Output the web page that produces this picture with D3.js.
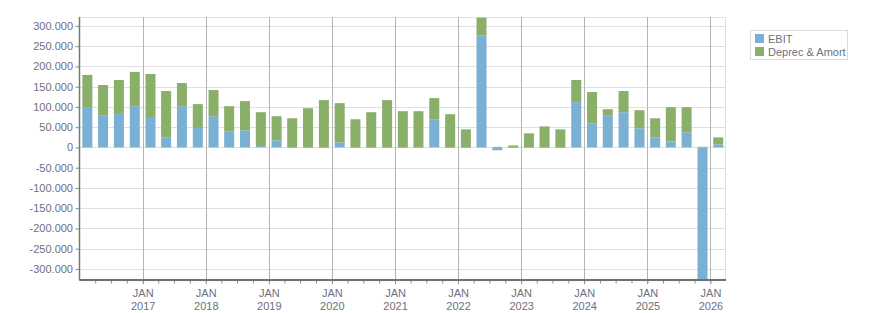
<!DOCTYPE html>
<html>
<head>
<meta charset="utf-8">
<script src="https://cdn.jsdelivr.net/npm/d3@7"></script>
<style>
  body { margin: 0; background: #fff; }
  text { font-family: "Liberation Sans", Arial, sans-serif; font-size: 11px; fill: #716e82; }
</style>
</head>
<body>
<svg id="chart" width="876" height="313"></svg>
<script>
// quarterly EBIT vs depreciation & amortisation, stacked bars
const quarters = [
  '2016-01', '2016-04', '2016-07', '2016-10',
  '2017-01', '2017-04', '2017-07', '2017-10',
  '2018-01', '2018-04', '2018-07', '2018-10',
  '2019-01', '2019-04', '2019-07', '2019-10',
  '2020-01', '2020-04', '2020-07', '2020-10',
  '2021-01', '2021-04', '2021-07', '2021-10',
  '2022-01', '2022-04', '2022-07', '2022-10',
  '2023-01', '2023-04', '2023-07', '2023-10',
  '2024-01', '2024-04', '2024-07', '2024-10',
  '2025-01', '2025-04', '2025-07', '2025-10',
  '2026-01',
];
const ebit = [
  98000, 79500, 82800, 101900,
  72900, 24900, 101900, 48000,
  77000, 39800, 42300, 3300,
  17400, -1000, -1000, -1000,
  12400, -1000, -1000, -1000,
  -1000, -1000, 69600, -1000,
  -1000, 276000, -7000, -1000,
  -1000, -1000, -1000, 111800,
  59600, 79500, 87000, 47200,
  24900, 14900, 37300, -345000,
  7500,
];
const deprecAmort = [
  81000, 74500, 83700, 84500,
  108500, 114300, 57100, 58900,
  64700, 62100, 72000, 83700,
  59600, 72000, 96900, 116800,
  96900, 69600, 87000, 116800,
  89500, 89500, 52200, 82000,
  44700, 44500, 1500, 5000,
  34800, 52000, 44700, 54700,
  77100, 14900, 52200, 44800,
  47100, 84500, 62100, 1500,
  17400,
];
const seriesNames = ['EBIT', 'Deprec & Amort'];
const seriesColors = ['#79b0d3', '#8aaf69'];
const yTicks = [-300000, -250000, -200000, -150000, -100000, -50000, 0,
  50000, 100000, 150000, 200000, 250000, 300000];
const yearTicks = ['2017', '2018', '2019', '2020', '2021', '2022', '2023', '2024', '2025', '2026'];

const plotLeft = 79.5, plotRight = 726, plotTop = 17, plotBottom = 279.5;
const svg = d3.select('#chart');
const parseMonth = d3.timeParse('%Y-%m');

const x = d3.scaleTime()
  .domain([new Date(2016, 0, 1), new Date(2026, 3, 1)])
  .range([plotLeft, plotRight]);
const y = d3.scaleLinear().domain([-326000, 322000]).range([plotBottom, plotTop]);

const locale = d3.formatLocale({ decimal: ',', thousands: '.', grouping: [3], currency: ['', ''], minus: '-' });
const fmt = locale.format(',.3~f');

const rows = quarters.map((q, i) => ({ date: parseMonth(q), ebit: ebit[i], da: deprecAmort[i] }));
const stack = d3.stack().keys(['ebit', 'da']).offset(d3.stackOffsetDiverging);
const layers = stack(rows);

// grid
const grid = svg.append('g');
grid.selectAll('line.h').data(yTicks).join('line')
  .attr('x1', plotLeft).attr('x2', plotRight)
  .attr('y1', (d) => Math.round(y(d)) + 0.5).attr('y2', (d) => Math.round(y(d)) + 0.5)
  .attr('stroke', '#e0e0e0');
grid.append('line').attr('x1', plotLeft).attr('x2', plotRight)
  .attr('y1', plotTop + 0.5).attr('y2', plotTop + 0.5).attr('stroke', '#e0e0e0');
grid.append('line').attr('x1', plotRight - 0.5).attr('x2', plotRight - 0.5)
  .attr('y1', plotTop).attr('y2', plotBottom).attr('stroke', '#e0e0e0');
grid.selectAll('line.v').data(yearTicks).join('line')
  .attr('x1', (d) => Math.round(x(new Date(+d, 0, 1))) + 0.5)
  .attr('x2', (d) => Math.round(x(new Date(+d, 0, 1))) + 0.5)
  .attr('y1', plotTop).attr('y2', plotBottom + 5)
  .attr('stroke', '#b4b4b4');

// bars
svg.append('clipPath').attr('id', 'plot-clip')
  .append('rect').attr('x', plotLeft).attr('y', plotTop)
  .attr('width', plotRight - plotLeft).attr('height', plotBottom - plotTop);
const barWidth = 10;
const barLayer = svg.append('g').attr('clip-path', 'url(#plot-clip)');
layers.forEach((layer, li) => {
  barLayer.append('g').attr('fill', seriesColors[li])
    .selectAll('rect').data(layer).join('rect')
    .attr('x', (d) => {
      const start = d.data.date;
      const end = d3.timeMonth.offset(start, 3);
      return (x(start) + x(end)) / 2 - barWidth / 2;
    })
    .attr('width', barWidth)
    .attr('y', (d) => y(Math.max(d[0], d[1])))
    .attr('height', (d) => Math.abs(y(d[0]) - y(d[1])));
});

// y axis
const yAxis = svg.append('g')
  .attr('transform', `translate(${plotLeft},0)`)
  .call(d3.axisLeft(y).tickValues(yTicks).tickSize(4).tickPadding(2.5).tickFormat(fmt));
yAxis.select('.domain').remove();
yAxis.selectAll('.tick line').attr('stroke', '#8a8a8a');
yAxis.selectAll('text').attr('fill', null).attr('font-family', null).attr('font-size', null);
svg.append('line').attr('x1', plotLeft).attr('x2', plotLeft)
  .attr('y1', plotTop).attr('y2', plotBottom + 1).attr('stroke', '#777').attr('stroke-width', 1.5);

// x axis: quarter ticks plus year labels
const quarterTicks = d3.timeMonth.every(3).range(new Date(2016, 3, 1), new Date(2026, 2, 1));
const xMinor = svg.append('g')
  .attr('transform', `translate(0,${plotBottom})`)
  .call(d3.axisBottom(x).tickValues(quarterTicks).tickSize(4).tickFormat(''));
xMinor.select('.domain').remove();
xMinor.selectAll('.tick line').attr('stroke', '#8a8a8a');

const yearDates = yearTicks.map((yr) => new Date(+yr, 0, 1));
const xMajor = svg.append('g')
  .attr('transform', `translate(0,${plotBottom})`)
  .call(d3.axisBottom(x).tickValues(yearDates).tickSize(0).tickFormat(''));
xMajor.select('.domain').remove();
xMajor.selectAll('.tick').each(function (d) {
  const t = d3.select(this).append('text').attr('text-anchor', 'middle');
  t.append('tspan').attr('x', 0).attr('y', 17.5).text('JAN');
  t.append('tspan').attr('x', 0).attr('y', 30.5).text(d.getFullYear());
});
svg.append('line').attr('x1', plotLeft).attr('x2', plotRight)
  .attr('y1', plotBottom + 0.5).attr('y2', plotBottom + 0.5)
  .attr('stroke', '#707070').attr('stroke-width', 2);

// legend
const legend = svg.append('g').attr('transform', 'translate(750.5,30.5)');
legend.append('rect').attr('width', 97).attr('height', 29).attr('fill', '#fff').attr('stroke', '#dcdcdc');
seriesNames.forEach((name, i) => {
  legend.append('rect').attr('x', 4.5).attr('y', 3.5 + i * 13)
    .attr('width', 9).attr('height', 9).attr('fill', seriesColors[i]);
  legend.append('text').attr('x', 17.5).attr('y', 12.5 + i * 13).text(name);
});
</script>
</body>
</html>
